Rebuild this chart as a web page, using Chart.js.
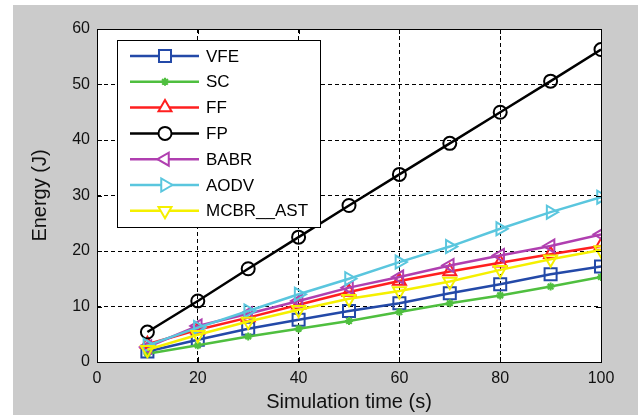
<!DOCTYPE html>
<html>
<head>
<meta charset="utf-8">
<script src="https://cdn.jsdelivr.net/npm/chart.js@4.4.0/dist/chart.umd.min.js"></script>
<style>
  html, body { margin: 0; padding: 0; background: #fff; }
  #wrap { width: 643px; height: 419px; position: relative; }
  canvas { position: absolute; left: 0; top: 0; }
</style>
</head>
<body>
<div id="wrap">
  <canvas id="chart1" width="643" height="419"></canvas>
</div>
<script>
// simulation time (s)
const simTime = [10, 20, 30, 40, 50, 60, 70, 80, 90, 100];

// energy (J) per protocol
const vfe = [1.9, 4.0, 6.0, 7.6, 9.2, 10.6, 12.4, 14.0, 15.8, 17.2];
const sc = [1.5, 3.0, 4.6, 6.0, 7.4, 9.0, 10.6, 12.0, 13.6, 15.3];
const ff = [3.2, 5.8, 8.0, 10.3, 12.6, 14.6, 16.3, 17.9, 19.4, 20.9];
const fp = [5.4, 11.0, 16.8, 22.5, 28.2, 33.8, 39.4, 45.0, 50.6, 56.3];
const babr = [2.7, 6.5, 8.7, 11.0, 13.4, 15.3, 17.4, 19.2, 20.9, 23.0];
const aodv = [3.0, 6.2, 9.2, 12.2, 15.0, 18.0, 20.8, 24.0, 27.0, 29.7];
const mcbr = [2.2, 4.9, 7.3, 9.4, 11.4, 12.8, 14.5, 16.6, 18.5, 20.2];

const xTicks = [0, 20, 40, 60, 80, 100];
const yTicks = [0, 10, 20, 30, 40, 50, 60];

const series = [
  { label: 'VFE', data: vfe, color: '#2349a8', style: 'rect', rot: 0, r: 8.5 },
  { label: 'SC', data: sc, color: '#4fbf3f', style: 'star', rot: 0, r: 4 },
  { label: 'FF', data: ff, color: '#ff1f1f', style: 'triangle', rot: 0, r: 7.5 },
  { label: 'FP', data: fp, color: '#000000', style: 'circle', rot: 0, r: 6.5 },
  { label: 'BABR', data: babr, color: '#b03fb0', style: 'triangle', rot: -90, r: 7.5 },
  { label: 'AODV', data: aodv, color: '#5ac6de', style: 'triangle', rot: 90, r: 7.5 },
  { label: 'MCBR__AST', data: mcbr, color: '#f5f000', style: 'triangle', rot: 180, r: 7.5 },
];

const FONT = "'Liberation Sans', Arial, sans-serif";

const datasets = series.map((s, i) => ({
  label: s.label,
  data: simTime.map((t, j) => ({ x: t, y: s.data[j] })),
  borderColor: s.color,
  backgroundColor: 'rgba(0,0,0,0)',
  borderWidth: 2.5,
  pointStyle: s.style,
  rotation: s.rot,
  pointRadius: s.r,
  pointBorderWidth: 2,
  pointBorderColor: s.color,
  pointBackgroundColor: 'rgba(0,0,0,0)',
  order: series.length - i,
  tension: 0,
}));

// figure background: gray frame, white axes
const figureBg = {
  id: 'figureBg',
  beforeDraw(chart) {
    const ctx = chart.ctx;
    const a = chart.chartArea;
    ctx.save();
    ctx.fillStyle = '#ffffff';
    ctx.fillRect(0, 0, chart.width, chart.height);
    ctx.fillStyle = '#cbcbcb';
    ctx.fillRect(13, 5, 625, 410);
    ctx.fillStyle = '#ffffff';
    ctx.fillRect(a.left, a.top, a.right - a.left, a.bottom - a.top);
    ctx.restore();
  },
};

// box, inward ticks, matlab-ish legend
const matlabLook = {
  id: 'matlabLook',
  afterDatasetsDraw(chart) {
    const ctx = chart.ctx;
    const a = chart.chartArea;
    const xs = chart.scales.x, ys = chart.scales.y;
    ctx.save();
    ctx.strokeStyle = '#000';
    ctx.lineWidth = 1;
    ctx.setLineDash([]);
    ctx.beginPath();
    xTicks.forEach(v => {
      const px = Math.round(xs.getPixelForValue(v)) + 0.5;
      ctx.moveTo(px, a.bottom); ctx.lineTo(px, a.bottom - 5);
      ctx.moveTo(px, a.top); ctx.lineTo(px, a.top + 5);
    });
    yTicks.forEach(v => {
      const py = Math.round(ys.getPixelForValue(v)) + 0.5;
      ctx.moveTo(a.left, py); ctx.lineTo(a.left + 5, py);
      ctx.moveTo(a.right, py); ctx.lineTo(a.right - 5, py);
    });
    ctx.stroke();
    ctx.strokeRect(Math.round(a.left) + 0.5, Math.round(a.top) + 0.5,
      Math.round(a.right - a.left), Math.round(a.bottom - a.top));

    // legend
    const lx = 117, ly = 40, lw = 203, lh = 187, rowH = 25.8;
    ctx.fillStyle = '#fff';
    ctx.fillRect(lx, ly, lw, lh);
    ctx.strokeRect(lx + 0.5, ly + 0.5, lw, lh);
    ctx.font = '17px ' + FONT;
    ctx.textBaseline = 'middle';
    chart.data.datasets.forEach((ds, i) => {
      const y = ly + 16 + i * rowH;
      ctx.strokeStyle = ds.borderColor;
      ctx.lineWidth = 2.5;
      ctx.beginPath();
      ctx.moveTo(130, y); ctx.lineTo(199, y);
      ctx.stroke();
      ctx.lineWidth = 2;
      ctx.fillStyle = ds.pointStyle === 'star' ? ds.borderColor : '#fff';
      Chart.helpers.drawPoint(ctx, {
        pointStyle: ds.pointStyle,
        rotation: ds.rotation,
        radius: ds.pointRadius,
        borderWidth: 2,
      }, 165, y);
      ctx.fillStyle = '#000';
      ctx.fillText(ds.label, 206, y + 1);
    });
    ctx.restore();
  },
};

const edgeColor = (ctx, lo, hi) =>
  (ctx.tick && (ctx.tick.value === lo || ctx.tick.value === hi)) ? 'rgba(0,0,0,0)' : '#000';

new Chart(document.getElementById('chart1').getContext('2d'), {
  type: 'line',
  data: { datasets },
  plugins: [figureBg, matlabLook],
  options: {
    responsive: false,
    animation: false,
    layout: { padding: { left: 0, top: 29, right: 42, bottom: 0 } },
    plugins: {
      legend: { display: false },
      tooltip: { enabled: false },
    },
    scales: {
      x: {
        type: 'linear',
        min: 0,
        max: 100,
        afterBuildTicks: s => { s.ticks = xTicks.map(v => ({ value: v })); },
        afterFit: s => { s.height = 57; },
        ticks: { color: '#111', font: { family: FONT, size: 16 }, padding: 7, maxRotation: 0 },
        grid: { color: c => edgeColor(c, 0, 100), lineWidth: 1, drawTicks: false },
        border: { display: false, dash: [4, 3] },
        title: { display: true, text: 'Simulation time (s)', color: '#111', font: { family: FONT, size: 20 }, padding: { top: 0, bottom: 5 } },
      },
      y: {
        min: 0,
        max: 60,
        afterBuildTicks: s => { s.ticks = yTicks.map(v => ({ value: v })); },
        afterFit: s => { s.width = 97; },
        ticks: { color: '#111', font: { family: FONT, size: 16 }, padding: 7 },
        grid: { color: c => edgeColor(c, 0, 60), lineWidth: 1, drawTicks: false },
        border: { display: false, dash: [4, 3] },
        title: { display: true, text: 'Energy (J)', color: '#111', font: { family: FONT, size: 20 }, padding: { top: 28, bottom: 0 } },
      },
    },
  },
});
</script>
</body>
</html>
